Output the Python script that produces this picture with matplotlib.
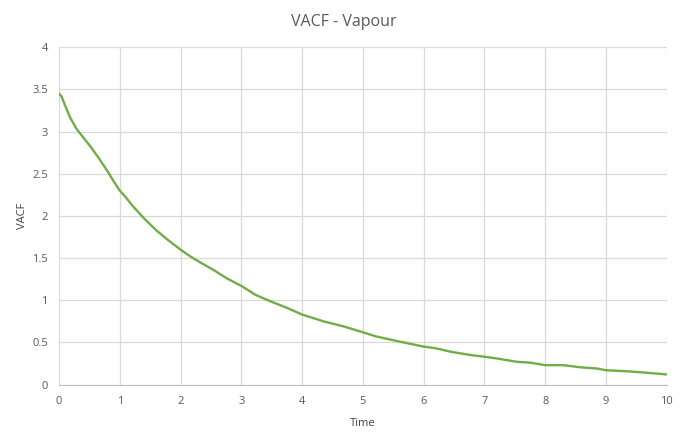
import matplotlib
matplotlib.use('Agg')
import matplotlib.pyplot as plt

# VACF values
time = [0, 0.04, 0.1, 0.18, 0.29, 0.4, 0.51, 0.65, 0.78, 0.9, 1.0, 1.1, 1.21, 1.4, 1.6,
        1.8, 2.0, 2.16, 2.32, 2.54, 2.76, 3.0, 3.23, 3.47, 3.75, 4.0, 4.35, 4.68, 5.0,
        5.22, 5.6, 6.0, 6.2, 6.44, 6.77, 7.0, 7.2, 7.53, 7.75, 8.0, 8.3, 8.57, 8.85,
        9.0, 9.4, 9.67, 10.0]
vacf = [3.45, 3.42, 3.31, 3.17, 3.03, 2.93, 2.83, 2.69, 2.55, 2.41, 2.30, 2.22, 2.12,
        1.97, 1.83, 1.71, 1.60, 1.52, 1.45, 1.36, 1.26, 1.17, 1.065, 0.99, 0.91, 0.83,
        0.75, 0.69, 0.62, 0.57, 0.51, 0.45, 0.43, 0.39, 0.35, 0.33, 0.31, 0.27, 0.26,
        0.23, 0.23, 0.205, 0.19, 0.17, 0.155, 0.14, 0.12]

plt.rcParams['font.family'] = ['Open Sans', 'DejaVu Sans']

fig = plt.figure(figsize=(6.87, 4.42), dpi=100)
ax = fig.add_axes([0.0859, 0.130, 0.8846, 0.763])

ax.plot(time, vacf, color='#70ad47', linewidth=1.7)

ax.set_xlim(0, 10)
ax.set_ylim(0, 4)
ax.set_xticks(range(0, 11))
ax.set_yticks([0, 0.5, 1, 1.5, 2, 2.5, 3, 3.5, 4])
ax.set_yticklabels(['0', '0.5', '1', '1.5', '2', '2.5', '3', '3.5', '4'])
ax.grid(True, color='#d9d9d9', linewidth=0.9)
ax.set_axisbelow(True)
for side in ['top', 'right', 'left']:
    ax.spines[side].set_visible(False)
ax.spines['bottom'].set_color('#bfbfbf')
ax.tick_params(length=0, colors='#595959', labelsize=8, pad=8)

fig.text(0.5, 0.95, 'VACF - Vapour', ha='center', va='center',
         fontsize=11.5, color='#595959')
ax.set_xlabel('Time', fontsize=8, color='#404040', labelpad=8)
ax.set_ylabel('VACF', fontsize=8, color='#404040', labelpad=3)

plt.savefig('out.png', dpi=100)
